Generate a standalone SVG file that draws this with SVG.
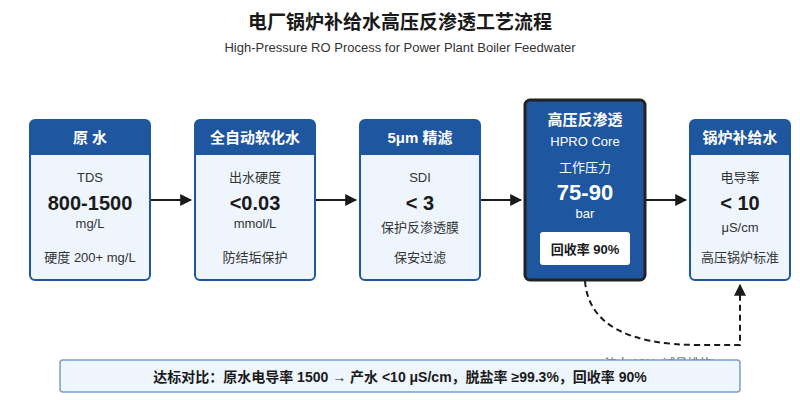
<svg xmlns="http://www.w3.org/2000/svg" width="800" height="400" viewBox="0 0 800 400">
<defs>
<style>
text{font-family:"Liberation Sans","Noto Sans CJK SC",sans-serif;text-anchor:middle}
.body{fill:#eef5fd;stroke:#1e56a0;stroke-width:2}
.hd{fill:#1e56a0}
.ht{fill:#fff;font-size:15px;font-weight:bold}
.lb{fill:#333;font-size:13px}
.big{fill:#1a1a1a;font-size:20px;font-weight:bold}
.conn{stroke:#1a1a1a;stroke-width:2;fill:none}
</style>
<marker id="ar" viewBox="0 0 10 10" refX="9" refY="5" markerWidth="6" markerHeight="6" orient="auto"><path d="M0,0L10,5L0,10z" fill="#1a1a1a"/></marker>
</defs>
<rect width="800" height="400" fill="#fff"/>
<text x="400" y="29" font-size="19" font-weight="bold" fill="#1a1a1a">电厂锅炉补给水高压反渗透工艺流程</text>
<text x="400" y="52" font-size="13" fill="#333">High-Pressure RO Process for Power Plant Boiler Feedwater</text>

<g id="connectors">
<line class="conn" x1="150" y1="200" x2="191" y2="200" marker-end="url(#ar)"/>
<line class="conn" x1="315" y1="200" x2="356" y2="200" marker-end="url(#ar)"/>
<line class="conn" x1="480" y1="200" x2="521" y2="200" marker-end="url(#ar)"/>
<line class="conn" x1="645" y1="200" x2="686" y2="200" marker-end="url(#ar)"/>
<path class="conn" d="M585,281 Q590,345 700,345 L740,345 L740,285" stroke-dasharray="6,4" marker-end="url(#ar)"/>
<text x="660" y="368" font-size="12" fill="#555">浓水 10% (减量排放)</text>
</g>

<g id="n1">
<rect class="body" x="30" y="120" width="120" height="160" rx="5"/>
<path class="hd" d="M30,125a5,5 0 0 1 5,-5h110a5,5 0 0 1 5,5v30h-120z"/>
<text class="ht" x="90" y="143">原 水</text>
<text class="lb" x="90" y="182" font-size="14">TDS</text>
<text class="big" x="90" y="210">800-1500</text>
<text class="lb" x="90" y="228">mg/L</text>
<text class="lb" x="90" y="262">硬度 200+ mg/L</text>
</g>
<g id="n2">
<rect class="body" x="195" y="120" width="120" height="160" rx="5"/>
<path class="hd" d="M195,125a5,5 0 0 1 5,-5h110a5,5 0 0 1 5,5v30h-120z"/>
<text class="ht" x="255" y="143">全自动软化水</text>
<text class="lb" x="255" y="182" font-size="14">出水硬度</text>
<text class="big" x="255" y="210">&lt;0.03</text>
<text class="lb" x="255" y="228">mmol/L</text>
<text class="lb" x="255" y="262">防结垢保护</text>
</g>
<g id="n3">
<rect class="body" x="360" y="120" width="120" height="160" rx="5"/>
<path class="hd" d="M360,125a5,5 0 0 1 5,-5h110a5,5 0 0 1 5,5v30h-120z"/>
<text class="ht" x="420" y="143">5μm 精滤</text>
<text class="lb" x="420" y="182" font-size="14">SDI</text>
<text class="big" x="420" y="210">&lt; 3</text>
<text class="lb" x="420" y="232">保护反渗透膜</text>
<text class="lb" x="420" y="262">保安过滤</text>
</g>
<g id="n4">
<rect x="525" y="100" width="120" height="180" rx="5" fill="#1e56a0" stroke="#222" stroke-width="3"/>
<text class="ht" x="585" y="125">高压反渗透</text>
<text x="585" y="146" font-size="13" fill="#fff">HPRO Core</text>
<text x="585" y="172" font-size="13" fill="#fff">工作压力</text>
<text x="585" y="200" font-size="22" font-weight="bold" fill="#fff">75-90</text>
<text x="585" y="218" font-size="13" fill="#fff">bar</text>
<rect x="540" y="232" width="90" height="33" rx="3" fill="#fff"/>
<text x="585" y="254" font-size="13" font-weight="bold" fill="#1a1a1a">回收率 90%</text>
</g>
<g id="n5">
<rect class="body" x="690" y="120" width="100" height="160" rx="5"/>
<path class="hd" d="M690,125a5,5 0 0 1 5,-5h90a5,5 0 0 1 5,5v30h-100z"/>
<text class="ht" x="740" y="143" font-size="14">锅炉补给水</text>
<text class="lb" x="740" y="182">电导率</text>
<text class="big" x="740" y="210">&lt; 10</text>
<text class="lb" x="740" y="232">μS/cm</text>
<text class="lb" x="740" y="262">高压锅炉标准</text>
</g>

<g id="summary">
<rect x="60" y="360" width="680" height="32" rx="3" fill="#eef5fd" stroke="#7a9fd0" stroke-width="1.5"/>
<text x="400" y="382" font-size="14" font-weight="bold" fill="#1a1a1a">达标对比：原水电导率 1500 → 产水 &lt;10 μS/cm，脱盐率 ≥99.3%，回收率 90%</text>
</g>
</svg>
